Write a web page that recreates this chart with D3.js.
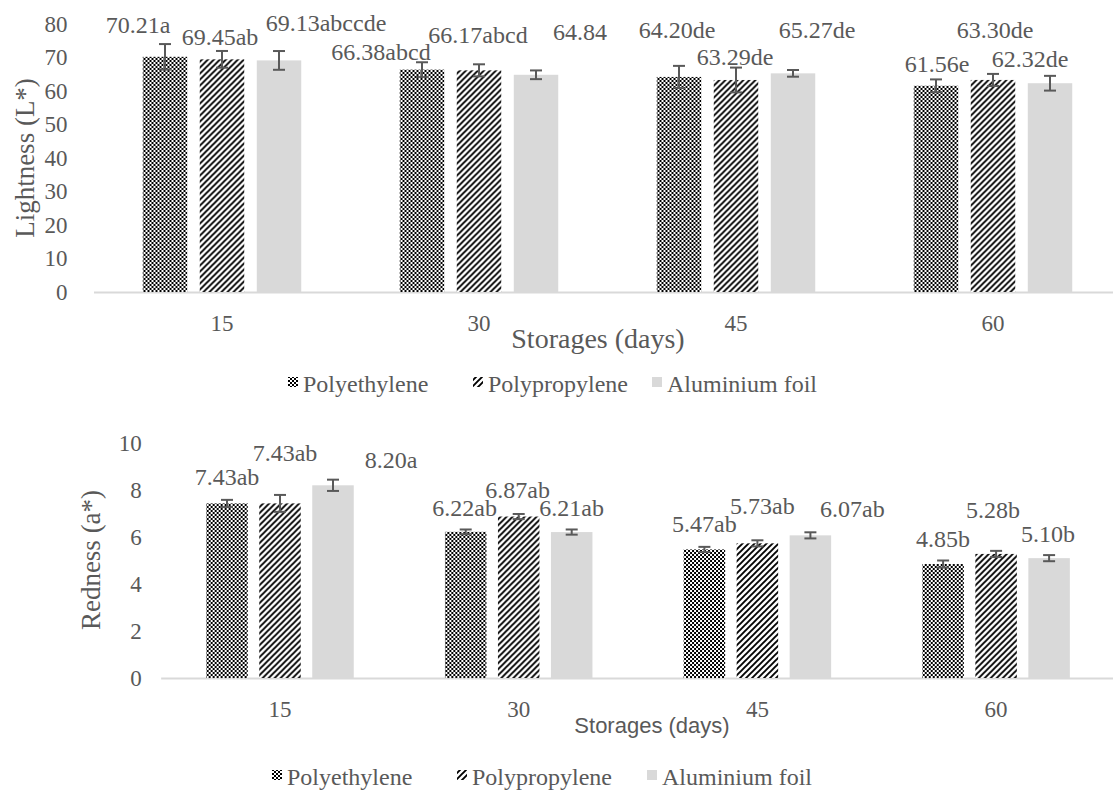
<!DOCTYPE html>
<html>
<head>
<meta charset="utf-8">
<script src="https://cdn.jsdelivr.net/npm/d3@7"></script>
<style>
  body { margin: 0; background: #fff; }
  text { fill: #595959; }
  .serif { font-family: "Liberation Serif", "Times New Roman", serif; }
</style>
</head>
<body>
<script>
// data
const days = ["15", "30", "45", "60"]
const packs = ["Polyethylene", "Polypropylene", "Aluminium foil"]

const lightPE = [70.21, 66.38, 64.20, 61.56]
const lightPP = [69.45, 66.17, 63.29, 63.30]
const lightAL = [69.13, 64.84, 65.27, 62.32]
const lightErrPE = [3.8, 2.2, 3.3, 1.9]
const lightErrPP = [2.5, 1.8, 3.7, 1.8]
const lightErrAL = [2.8, 1.3, 1.0, 2.2]
const lightLetPE = ["a", "abcd", "de", "e"]
const lightLetPP = ["ab", "abcd", "de", "de"]
const lightLetAL = ["abccde", "", "de", "de"]
const lightTicks = [0, 10, 20, 30, 40, 50, 60, 70, 80]

const redPE = [7.43, 6.22, 5.47, 4.85]
const redPP = [7.43, 6.87, 5.73, 5.28]
const redAL = [8.20, 6.21, 6.07, 5.10]
const redErrPE = [0.15, 0.10, 0.11, 0.15]
const redErrPP = [0.36, 0.11, 0.13, 0.13]
const redErrAL = [0.24, 0.11, 0.13, 0.13]
const redLetPE = ["ab", "ab", "ab", "b"]
const redLetPP = ["ab", "ab", "ab", "b"]
const redLetAL = ["a", "ab", "ab", "b"]
const redTicks = [0, 2, 4, 6, 8, 10]

const w = 1113
const h = 790

const svg = d3.select("body").append("svg")
  .attr("width", w)
  .attr("height", h)

// fill patterns
const defs = svg.append("defs")
const chk = defs.append("pattern").attr("id", "chk")
  .attr("width", 4).attr("height", 4).attr("patternUnits", "userSpaceOnUse")
chk.append("rect").attr("width", 4).attr("height", 4).attr("fill", "#fff")
chk.append("rect").attr("width", 2).attr("height", 2).attr("fill", "#000")
chk.append("rect").attr("x", 2).attr("y", 2).attr("width", 2).attr("height", 2).attr("fill", "#000")

const diag = defs.append("pattern").attr("id", "diag")
  .attr("width", 6).attr("height", 6).attr("patternUnits", "userSpaceOnUse")
diag.append("rect").attr("width", 6).attr("height", 6).attr("fill", "#fff")
diag.append("path").attr("d", "M-1.5,1.5 L1.5,-1.5 M0,6 L6,0 M4.5,7.5 L7.5,4.5")
  .attr("stroke", "#000").attr("stroke-width", 1.9)

const fills = ["url(#chk)", "url(#diag)", "#d9d9d9"]

function drawPanel(c) {
  const g = svg.append("g")

  const y = d3.scaleLinear().domain([0, c.ticks[c.ticks.length - 1]]).range([c.y0, c.y1])
  const x0 = d3.scaleBand().domain(days).range(c.xRange)
  const inner = (x0.bandwidth() - c.groupW) / 2
  const x1 = d3.scaleBand().domain(packs).range([inner, inner + c.groupW]).paddingInner(c.barPad)

  // y axis (labels only)
  const ya = g.append("g")
    .attr("transform", "translate(" + c.xRange[0] + ",0)")
    .call(d3.axisLeft(y).tickValues(c.ticks).tickSize(0).tickPadding(c.tickPad))
  ya.select(".domain").remove()
  ya.selectAll("text").attr("class", "serif").style("font-size", "23px").style("fill", "#595959")

  // x axis
  const xa = g.append("g")
    .attr("transform", "translate(0," + c.y0 + ")")
    .call(d3.axisBottom(x0).tickSize(0))
  xa.select(".domain").attr("stroke", "#d9d9d9").attr("stroke-width", 2)
  xa.selectAll("text").attr("class", "serif").attr("y", 39).attr("dy", 0)
    .style("font-size", "23px").style("fill", "#595959")

  const rows = days.map((d, i) => ({
    day: d,
    items: packs.map((p, k) => ({
      pack: p, k: k, i: i,
      v: c.vals[k][i], e: c.errs[k][i], lab: c.vals[k][i].toFixed(2) + c.lets[k][i]
    }))
  }))

  const grp = g.selectAll(".grp").data(rows).enter().append("g")
    .attr("transform", d => "translate(" + x0(d.day) + ",0)")

  grp.selectAll("rect").data(d => d.items).enter().append("rect")
    .attr("x", d => x1(d.pack))
    .attr("y", d => y(d.v))
    .attr("width", x1.bandwidth())
    .attr("height", d => y(0) - y(d.v))
    .attr("fill", d => fills[d.k])

  // error bars
  const eb = grp.selectAll(".eb").data(d => d.items).enter().append("g")
    .attr("stroke", "#595959").attr("stroke-width", 2)
  const cx = d => x1(d.pack) + x1.bandwidth() / 2
  eb.append("line")
    .attr("x1", cx).attr("x2", cx)
    .attr("y1", d => y(d.v + d.e)).attr("y2", d => y(d.v - d.e))
  eb.append("line")
    .attr("x1", d => cx(d) - 6).attr("x2", d => cx(d) + 6)
    .attr("y1", d => y(d.v + d.e)).attr("y2", d => y(d.v + d.e))
  eb.append("line")
    .attr("x1", d => cx(d) - 6).attr("x2", d => cx(d) + 6)
    .attr("y1", d => y(d.v - d.e)).attr("y2", d => y(d.v - d.e))

  // data labels (hand-nudged like the original)
  grp.selectAll(".lab").data(d => d.items).enter().append("text")
    .attr("class", "serif")
    .attr("x", d => cx(d) + c.labShift[d.i][d.k][0])
    .attr("y", d => y(d.v) + c.labShift[d.i][d.k][1])
    .attr("text-anchor", "middle")
    .style("font-size", "24px")
    .text(d => d.lab)

  // axis titles
  g.append("text").attr("class", "serif")
    .attr("transform", "translate(" + c.yTitle[0] + "," + c.yTitle[1] + ") rotate(-90)")
    .attr("text-anchor", "middle").attr("dominant-baseline", "central")
    .style("font-size", "27px")
    .text(c.yLabel)

  g.append("text")
    .attr("class", c.xTitleSans ? "" : "serif")
    .attr("x", c.xTitle[0]).attr("y", c.xTitle[1])
    .attr("text-anchor", "middle")
    .style("font-family", c.xTitleSans ? "'Liberation Sans', Arial, sans-serif" : null)
    .style("font-size", c.xTitleSans ? "22px" : "28px")
    .text("Storages (days)")

  // legend
  const lg = g.selectAll(".lg").data(packs).enter().append("g")
    .attr("transform", (d, k) => "translate(" + c.legX[k] + "," + c.legY + ")")
  lg.append("rect").attr("x", 0).attr("y", -15).attr("width", 10).attr("height", 10)
    .attr("fill", (d, k) => fills[k])
  lg.append("text").attr("class", "serif").attr("x", 15).attr("y", 0)
    .style("font-size", "24px").text(d => d)
}

drawPanel({
  y0: 292, y1: 24, xRange: [93.5, 1121.5], groupW: 158.5, barPad: 0.22, tickPad: 26,
  ticks: lightTicks,
  vals: [lightPE, lightPP, lightAL], errs: [lightErrPE, lightErrPP, lightErrAL],
  lets: [lightLetPE, lightLetPP, lightLetAL],
  labShift: [
    [[-27, -24], [-2, -14], [47, -29]],
    [[-41, -10], [-1, -27], [44, -35]],
    [[-2, -39], [-1, -15], [24, -35]],
    [[1, -14], [2, -42], [-20, -16]]
  ],
  yLabel: "Lightness (L*)", yTitle: [25, 158],
  xTitle: [598, 348], xTitleSans: false,
  legX: [288, 473, 652], legY: 392
})

drawPanel({
  y0: 678, y1: 443, xRange: [160.65, 1115.45], groupW: 147.5, barPad: 0.217, tickPad: 19,
  ticks: redTicks,
  vals: [redPE, redPP, redAL], errs: [redErrPE, redErrPP, redErrAL],
  lets: [redLetPE, redLetPP, redLetAL],
  labShift: [
    [[0, -18], [5, -42], [58, -17]],
    [[-1, -16], [-1, -19], [0, -16]],
    [[0, -17], [5, -29], [42, -18]],
    [[0, -17], [-3, -36], [-1, -16]]
  ],
  yLabel: "Redness (a*)", yTitle: [91, 560],
  xTitle: [652, 733], xTitleSans: true,
  legX: [272, 457, 647], legY: 785
})
</script>
</body>
</html>
